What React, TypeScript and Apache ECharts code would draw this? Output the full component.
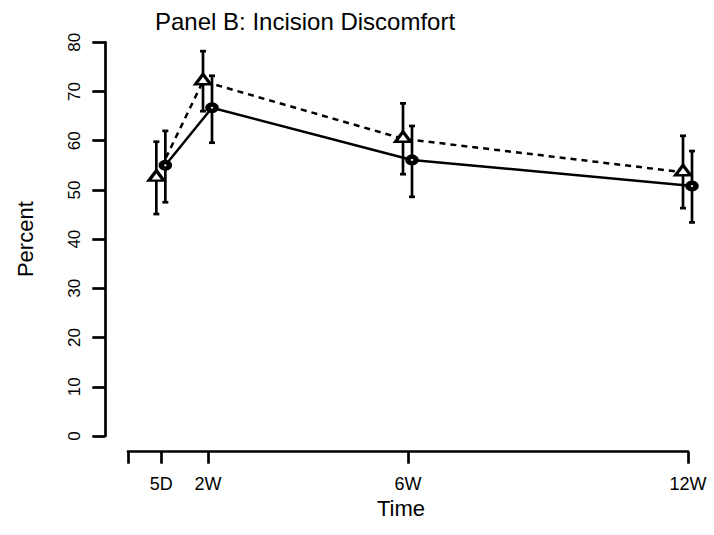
import React, { useEffect, useRef } from 'react';
import * as echarts from 'echarts';

// Time points (days) and their labels
const timeDays = [5, 12, 42, 84];
const timeLabels = ['5D', '2W', '6W', '12W'];
const tickDays = [0, 5, 12, 42, 84];

// Triangle group (dashed line)
const triMean = [52.5, 72.1, 60.4, 53.6];
const triLow = [45.1, 66.0, 53.2, 46.3];
const triHigh = [59.8, 78.2, 67.6, 61.0];

// Circle group (solid line)
const circMean = [55.0, 66.7, 56.1, 50.8];
const circLow = [47.5, 59.6, 48.6, 43.4];
const circHigh = [62.0, 73.2, 63.0, 57.9];

const yTicks = [0, 10, 20, 30, 40, 50, 60, 70, 80];

const TRI_DODGE = -0.75;
const CIRC_DODGE = 0.6;
const FONT = "'Liberation Sans', Arial, Helvetica, sans-serif";

export default function App() {
  const ref = useRef<HTMLDivElement>(null);
  useEffect(() => {
    document.body.style.margin = '0';
    const chart = echarts.init(ref.current!, null, { renderer: 'svg' });
    const triX = timeDays.map((d) => d + TRI_DODGE);
    const circX = timeDays.map((d) => d + CIRC_DODGE);

    const errRender = (params: any, api: any) => {
      const x = api.value(0);
      const lo = api.coord([x, api.value(1)]);
      const hi = api.coord([x, api.value(2)]);
      const cap = 3;
      const style = { stroke: '#000', lineWidth: 2.7 };
      return {
        type: 'group',
        children: [
          { type: 'line', shape: { x1: lo[0], y1: lo[1], x2: hi[0], y2: hi[1] }, style },
          { type: 'line', shape: { x1: hi[0] - cap, y1: hi[1], x2: hi[0] + cap, y2: hi[1] }, style },
          { type: 'line', shape: { x1: lo[0] - cap, y1: lo[1], x2: lo[0] + cap, y2: lo[1] }, style },
        ],
      };
    };

    const option: any = {
      animation: false,
      backgroundColor: '#fff',
      textStyle: { fontFamily: FONT, color: '#000' },
      title: {
        text: 'Panel B: Incision Discomfort',
        left: 150,
        top: 4,
        textStyle: { fontFamily: FONT, fontSize: 24, fontWeight: 'normal', color: '#000' },
      },
      grid: { left: 128, right: 26, top: 42.3, bottom: 99, containLabel: false },
      xAxis: {
        type: 'value',
        min: 0,
        max: 84,
        offset: 15.7,
        name: 'Time',
        nameLocation: 'middle',
        nameGap: 39,
        nameTextStyle: { fontFamily: FONT, fontSize: 22, color: '#000', padding: [0, 14, 0, 0] },
        axisLine: { show: true, onZero: false, lineStyle: { color: '#000', width: 2.7 } },
        axisTick: { show: true, customValues: tickDays, length: 12, lineStyle: { color: '#000', width: 2.7 } },
        axisLabel: {
          customValues: timeDays,
          formatter: (v: number) => timeLabels[timeDays.indexOf(v)] ?? '',
          margin: 23,
          fontFamily: FONT,
          fontSize: 18,
          color: '#000',
        },
        splitLine: { show: false },
      },
      yAxis: {
        type: 'value',
        min: 0,
        max: 80,
        interval: 10,
        offset: 22.7,
        name: 'Percent',
        nameLocation: 'middle',
        nameGap: 69,
        nameTextStyle: { fontFamily: FONT, fontSize: 22, color: '#000' },
        axisLine: { show: true, onZero: false, lineStyle: { color: '#000', width: 2.7 } },
        axisTick: { show: true, customValues: yTicks, length: 13, lineStyle: { color: '#000', width: 2.7 } },
        axisLabel: {
          customValues: yTicks,
          rotate: 90,
          margin: 22,
          fontFamily: FONT,
          fontSize: 17,
          color: '#000',
        },
        splitLine: { show: false },
      },
      series: [
        {
          type: 'custom',
          name: 'triErr',
          data: triX.map((x, i) => [x, triLow[i], triHigh[i]]),
          renderItem: errRender,
          encode: { x: 0, y: [1, 2] },
          z: 1,
        },
        {
          type: 'custom',
          name: 'circErr',
          data: circX.map((x, i) => [x, circLow[i], circHigh[i]]),
          renderItem: errRender,
          encode: { x: 0, y: [1, 2] },
          z: 1,
        },
        {
          type: 'line',
          name: 'triangle',
          data: triX.map((x, i) => [x, triMean[i]]),
          symbol: 'triangle',
          symbolSize: [15, 10],
          symbolOffset: [0, -2],
          showAllSymbol: true,
          clip: false,
          itemStyle: { color: '#fff', borderColor: '#000', borderWidth: 3 },
          lineStyle: { color: '#000', width: 2.5, type: [6, 5] },
          z: 2,
        },
        {
          type: 'line',
          name: 'circle',
          data: circX.map((x, i) => [x, circMean[i]]),
          symbol: 'circle',
          symbolSize: [8, 6.5],
          showAllSymbol: true,
          clip: false,
          itemStyle: { color: '#fff', borderColor: '#000', borderWidth: 5 },
          lineStyle: { color: '#000', width: 2.5 },
          z: 3,
        },
      ],
    };
    chart.setOption(option);
    return () => chart.dispose();
  }, []);
  return <div ref={ref} style={{ width: 714, height: 535 }} />;
}
